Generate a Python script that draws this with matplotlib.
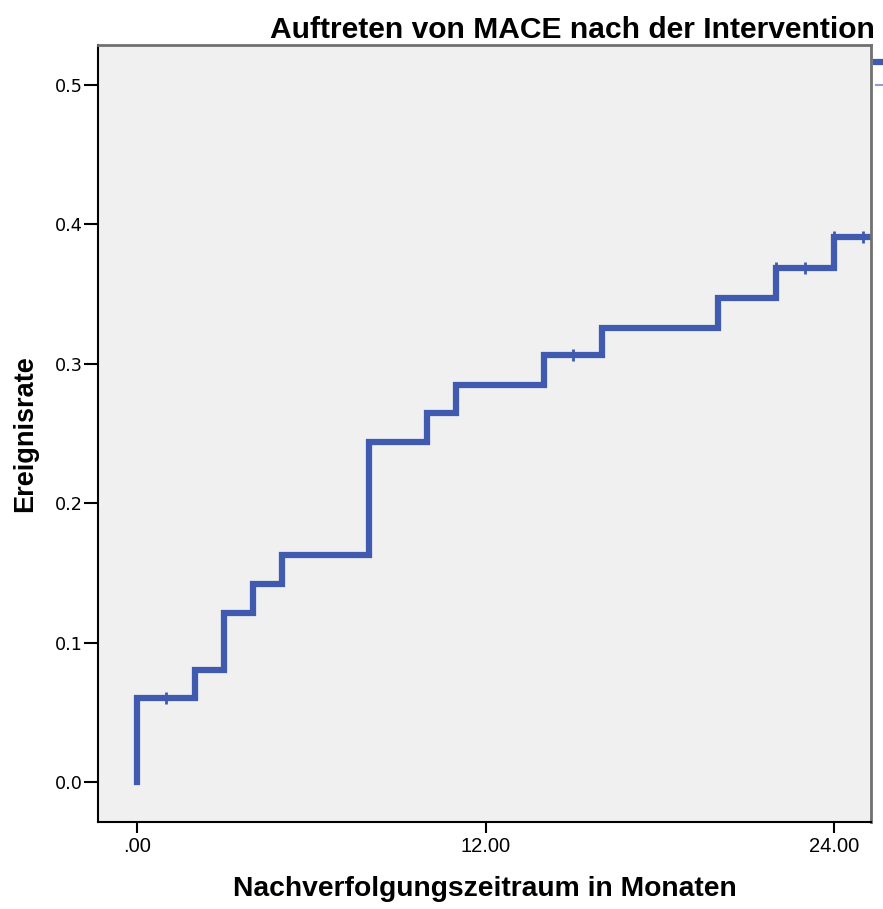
import numpy as np
import matplotlib
matplotlib.use("Agg")
import matplotlib.pyplot as plt
from matplotlib.lines import Line2D

# ---------------- DATA ----------------
# step times (months) and cumulative event rate after each step
step_times = [0, 2, 3, 4, 5, 8, 10, 11, 14, 16, 20, 22, 24, 26]
event_rate = [0.060, 0.080, 0.121, 0.142, 0.163, 0.244, 0.265, 0.285,
              0.306, 0.326, 0.347, 0.369, 0.391, 0.391]

# censored observations
cens_times = [1, 15, 22, 23, 24, 25]
cens_rate = [0.060, 0.306, 0.369, 0.369, 0.391, 0.391]

x_ticks = [0, 12, 24]
x_ticklabels = [".00", "12.00", "24.00"]
y_ticks = [0.0, 0.1, 0.2, 0.3, 0.4, 0.5]

# ---------------- STYLE ----------------
BLUE = "#3F5AAE"
SANS = ["Liberation Sans", "DejaVu Sans"]

fig = plt.figure(figsize=(8.83, 9.09), dpi=100)
ax = fig.add_axes([98 / 883, 1 - 822 / 909, (871 - 98) / 883, (822 - 45) / 909])
ax.set_facecolor("#F0F0F0")

# curve starts at 0 then steps up
xs = [0] + step_times
ys = [0.0] + event_rate
ax.step(xs, ys, where="post", color=BLUE, linewidth=4.5, solid_joinstyle="miter")
ax.plot(cens_times, cens_rate, linestyle="none", marker="|", markersize=9,
        markeredgewidth=2, color=BLUE)

ax.set_xlim(-1.34, 25.27)
ax.set_ylim(-0.0287, 0.5287)

ax.set_xticks(x_ticks)
ax.set_xticklabels(x_ticklabels, family=SANS, fontsize=14.5)
ax.set_yticks(y_ticks)
ax.set_yticklabels([f"{v:.1f}" for v in y_ticks], family="DejaVu Sans", fontsize=12.7)
ax.tick_params(axis="both", direction="out", width=1.5, color="black")
ax.tick_params(axis="x", length=8, pad=3)
ax.tick_params(axis="y", length=10, pad=1)

for side in ["left", "bottom"]:
    ax.spines[side].set_color("black")
    ax.spines[side].set_linewidth(1.5)
for side in ["top", "right"]:
    ax.spines[side].set_color("#707070")
    ax.spines[side].set_linewidth(2)

ax.set_xlabel("Nachverfolgungszeitraum in Monaten", family=SANS, fontweight="bold",
              fontsize=20.3, labelpad=14)
ax.set_ylabel("Ereignisrate", family=SANS, fontweight="bold", fontsize=19.5, labelpad=12)

fig.text(875 / 883, 1 - 38 / 909, "Auftreten von MACE nach der Intervention",
         family=SANS, fontweight="bold", fontsize=21.6, ha="right", va="baseline")

# legend (mostly cut off at the right edge, as in the original)
handles = [Line2D([], [], color=BLUE, linewidth=4.5),
           Line2D([], [], color="#8CA0D2", linewidth=1.5)]
fig.legend(handles, ["", ""], loc="upper left",
           bbox_to_anchor=(876 / 883, 1 - 54 / 909), frameon=False,
           handlelength=2, fontsize=12, borderaxespad=0, borderpad=0,
           handletextpad=0.5, labelspacing=0.3)

fig.savefig("out.png", dpi=100)
